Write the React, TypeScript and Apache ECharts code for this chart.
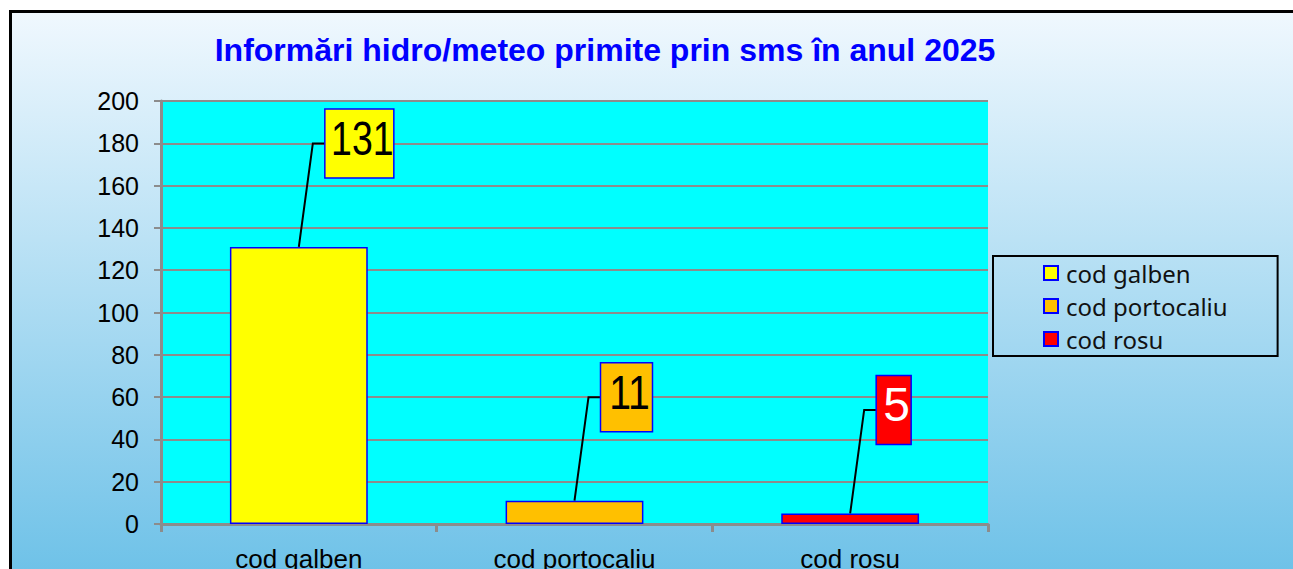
import React, { useEffect, useRef } from "react";
import * as echarts from "echarts";

const title = "Informări hidro/meteo primite prin sms în anul 2025";
const categories = ["cod galben", "cod portocaliu", "cod rosu"];
const values = [131, 11, 5];
const barColors = ["#FFFF00", "#FFC000", "#FF0000"];
const labelTextColors = ["#000000", "#000000", "#FFFFFF"];
const yMin = 0;
const yMax = 200;
const yInterval = 20;

export default function App() {
  const ref = useRef<HTMLDivElement>(null);

  useEffect(() => {
    if (!ref.current) return;
    const chart = echarts.init(ref.current, null, { renderer: "svg" });

    const barSeries = categories.map((name, i) => ({
      name,
      type: "bar",
      barWidth: "50%",
      barGap: "-100%",
      data: values.map((v, j) => (j === i ? v : "-")),
      itemStyle: {
        color: barColors[i],
        borderColor: "#0000FF",
        borderWidth: 1.5,
      },
      z: 3,
    }));

    const labelSeries = {
      type: "custom",
      name: "labels",
      clip: false,
      z: 10,
      data: values.map((v, i) => [i, v]),
      encode: { x: 0, y: 1 },
      renderItem: (params: any, api: any) => {
        const idx = api.value(0);
        const val = api.value(1);
        const p = api.coord([idx, val]);
        const txt = String(values[idx]);
        const n = txt.length;
        const w = 17 * n + 18;
        const h = 69;
        const bx = p[0] + 26;
        const by = p[1] - 138;
        const my = by + h / 2;
        const sx = n === 1 ? 1 : (19.5 * (n - 1) + 12.5) / (26.7 * (n - 1) + 12.5);
        const cx = bx + w / 2 + 3;
        return {
          type: "group",
          children: [
            {
              type: "polyline",
              shape: { points: [[p[0], p[1]], [p[0] + 14, my], [bx, my]] },
              style: { stroke: "#000000", lineWidth: 2, fill: null },
            },
            {
              type: "rect",
              shape: { x: bx, y: by, width: w, height: h },
              style: { fill: barColors[idx], stroke: "#0000FF", lineWidth: 1.5 },
            },
            {
              type: "text",
              x: cx,
              y: my - 5,
              scaleX: sx,
              style: {
                text: txt,
                x: 0,
                y: 0,
                fill: labelTextColors[idx],
                fontSize: 48,
                fontFamily: "Liberation Sans, Arial",
                align: "center",
                textAlign: "center",
                verticalAlign: "middle",
                textVerticalAlign: "middle",
              },
            },
          ],
        };
      },
    };

    chart.setOption({
      animation: false,
      graphic: [
        {
          type: "rect",
          z: -10,
          shape: { x: 10.5, y: 11.5, width: 1300, height: 600 },
          style: {
            stroke: "#000000",
            lineWidth: 3,
            fill: new echarts.graphic.LinearGradient(0, 0, 0, 1, [
              { offset: 0, color: "#F0F8FE" },
              { offset: 0.93, color: "#6FC2E8" },
              { offset: 1, color: "#6BC0E7" },
            ]),
          },
        },
        {
          type: "text",
          z: 5,
          style: {
            text: title,
            x: 605,
            y: 50,
            fill: "#0000FF",
            fontSize: 32,
            fontWeight: "bold",
            fontFamily: "Liberation Sans, Arial",
            align: "center",
            textAlign: "center",
            verticalAlign: "middle",
            textVerticalAlign: "middle",
          },
        },
      ],
      grid: {
        left: 161,
        top: 101,
        right: 305,
        bottom: 45,
        outerBoundsMode: "none",
        containLabel: false,
        show: true,
        backgroundColor: "#00FFFF",
        borderWidth: 0,
      },
      legend: {
        data: categories,
        orient: "vertical",
        left: 993,
        top: 256,
        padding: [5, 50, 5, 50],
        itemGap: 9,
        itemWidth: 14,
        itemHeight: 14,
        icon: "rect",
        borderColor: "#000000",
        borderWidth: 2,
        backgroundColor: "transparent",
        itemStyle: { borderColor: "#0000FF", borderWidth: 2 },
        textStyle: {
          fontFamily: "Noto Sans",
          fontSize: 24,
          lineHeight: 24,
          color: "#111111",
          padding: [0, 0, 0, 3],
        },
      },
      xAxis: {
        type: "category",
        data: categories,
        axisLine: { show: true, lineStyle: { color: "#8C8C8C", width: 3 } },
        axisTick: {
          show: true,
          alignWithLabel: false,
          length: 8,
          lineStyle: { color: "#8C8C8C", width: 3 },
        },
        axisLabel: {
          color: "#000000",
          fontSize: 26,
          fontFamily: "Liberation Sans, Arial",
          margin: 22,
        },
        splitLine: { show: false },
      },
      yAxis: {
        type: "value",
        min: yMin,
        max: yMax,
        interval: yInterval,
        axisLine: { show: true, lineStyle: { color: "#8C8C8C", width: 3 } },
        axisTick: {
          show: true,
          length: 7,
          lineStyle: { color: "#8C8C8C", width: 2 },
        },
        axisLabel: {
          color: "#000000",
          fontSize: 25,
          fontFamily: "Liberation Sans, Arial",
          margin: 22,
        },
        splitLine: { show: true, lineStyle: { color: "#8C8C8C", width: 2 } },
      },
      series: [...barSeries, labelSeries],
    });

    return () => {
      chart.dispose();
    };
  }, []);

  return (
    <div
      ref={ref}
      style={{ position: "fixed", left: 0, top: 0, width: 1293, height: 569, background: "#FFFFFF" }}
    />
  );
}
